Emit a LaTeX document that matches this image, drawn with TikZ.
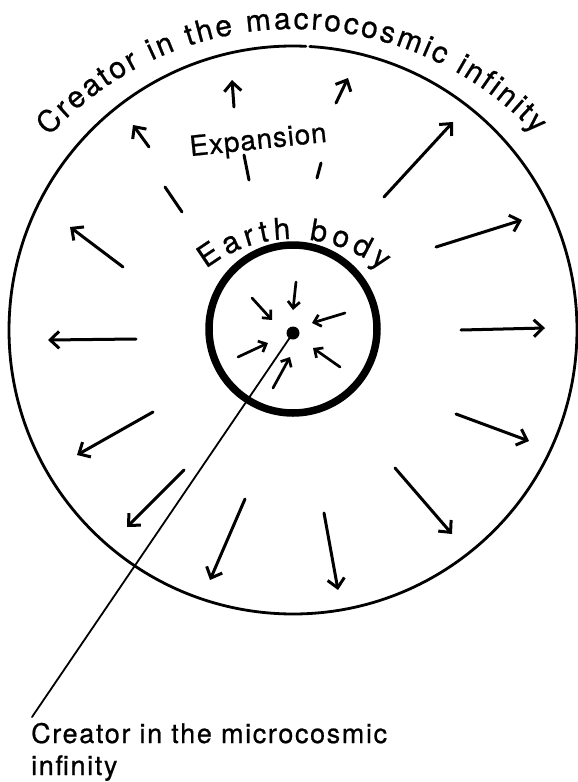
\documentclass[tikz,border=0pt]{standalone}
\usepackage{fontspec}
\setmainfont{TeX Gyre Heros}[FakeBold=0.7]
\usetikzlibrary{arrows.meta,decorations.text}
\begin{document}
\begin{tikzpicture}[x=1pt,y=1pt,line cap=round,
  outarrow/.style={line width=3pt,-{Straight Barb[length=9pt,width=17pt]}},
  inarrow/.style={line width=2.7pt,-{Straight Barb[length=6.5pt,width=12pt]}},
  stub/.style={line width=3pt},
  lbl/.style={inner sep=0pt}]
\useasboundingbox (0,0) rectangle (578,-782);
% outer circle with small gap at top
\draw[line width=2.8pt] (293,-330) ++(87.4:284) arc[start angle=87.4,end angle=446.6,radius=284];
% inner circle (Earth body)
\draw[line width=7.5pt] (293,-329) circle[radius=84];
% curved titles
\path[decorate,decoration={text along path,
  text={|\fontsize{30}{34}\selectfont|Creator in the macrocosmic infinity},
  text align={fit to path}}]
  (293,-360) ++(137.5:331) arc[start angle=137.5,end angle=43,radius=331];
\path[decorate,decoration={text along path,
  text={|\fontsize{30}{34}\selectfont|Earth body},
  text align={fit to path}}]
  (293,-380) ++(128:141) arc[start angle=128,end angle=51,radius=141];
% Expansion label
\node[lbl,anchor=base,rotate=6,font=\fontsize{28}{30}\selectfont\addfontfeature{LetterSpace=3}] (exp) at (259,-149) {Expansion};
% outer arrows
\draw[outarrow] (149,-147) -- (133,-125);
\draw[outarrow] (234,-107) -- (232,-80);
\draw[outarrow] (336,-103) -- (348,-78);
\draw[outarrow] (384,-197) -- (453,-122);
\draw[outarrow] (123,-267) -- (70,-227);
\draw[outarrow] (136,-339) -- (48,-340);
\draw[outarrow] (436,-247) -- (522,-220);
\draw[outarrow] (461,-330) -- (545,-328);
\draw[outarrow] (153,-412) -- (77,-455);
\draw[outarrow] (184,-470) -- (127,-527);
\draw[outarrow] (245,-499) -- (210,-580);
\draw[outarrow] (324,-513) -- (338,-590);
\draw[outarrow] (395,-468) -- (452,-534);
\draw[outarrow] (456,-414) -- (529,-441);
% stubs
\draw[stub] (165,-187) -- (182,-212);
\draw[stub] (244,-155) -- (249,-180);
\draw[stub] (321,-163) -- (317,-178);
% inner arrows
\draw[inarrow] (252,-298) -- (272,-320);
\draw[inarrow] (296,-282) -- (293,-310);
\draw[inarrow] (345,-313) -- (312,-323);
\draw[inarrow] (238,-357) -- (268,-343);
\draw[inarrow] (340,-367) -- (313,-348);
\draw[inarrow] (273,-388) -- (290,-357);
% centre dot and leader
\node[circle,fill,inner sep=0pt,minimum size=13pt] (dot) at (293,-333) {};
\coordinate (lead) at (32,-717);
\draw[line width=1.8pt] (dot.center) -- (lead);
% caption
\node[lbl,anchor=base west,font=\fontsize{27}{30}\selectfont\addfontfeature{LetterSpace=6}] (cap1) at (31,-743) {Creator in the microcosmic};
\node[lbl,anchor=base west,font=\fontsize{27}{30}\selectfont\addfontfeature{LetterSpace=6}] (cap2) at (31,-775) {infinity};
\end{tikzpicture}
\end{document}
